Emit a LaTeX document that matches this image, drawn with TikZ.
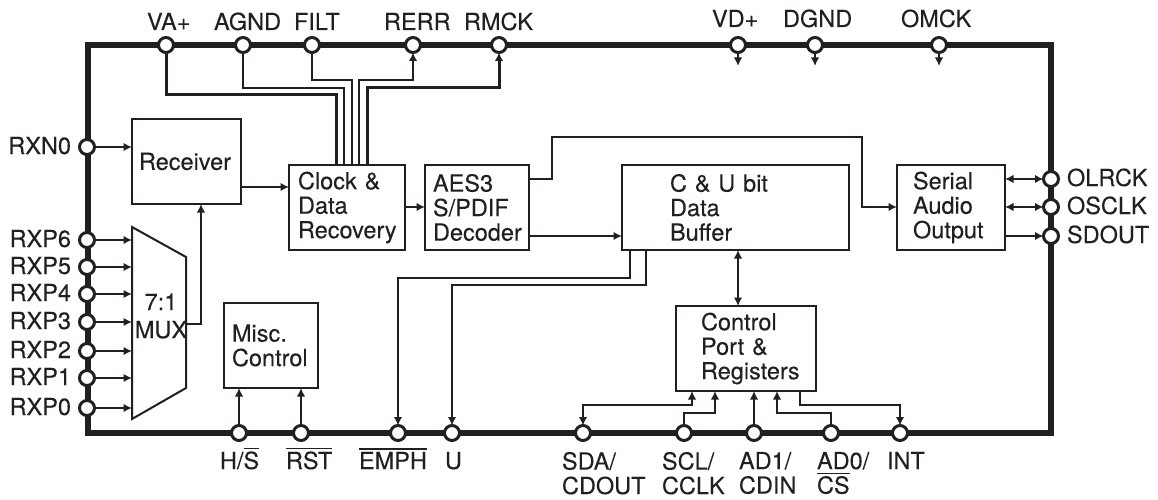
\documentclass[tikz,border=0pt]{standalone}
\usepackage{fontspec}
\setmainfont{TeX Gyre Heros}[FakeBold=0.12]
\usetikzlibrary{arrows.meta}
\definecolor{ink}{HTML}{231F20}
\newcommand\ovl[1]{\leavevmode\vbox{\hrule height 1.2pt \kern 2.2pt \hbox{#1}}}
\tikzset{
  x=1pt,y=-1pt,
  every node/.style={font=\fontsize{23.5}{24.5}\selectfont,text=ink},
  frameline/.style={draw=ink,line width=6pt,line join=miter},
  pin/.style={circle,draw=ink,line width=3pt,fill=white,minimum size=15pt,inner sep=0pt,outer sep=0pt},
  blk/.style={draw=ink,line width=2pt,fill=white,anchor=north west,align=left,inner ysep=0pt,outer sep=0pt,minimum height=85pt},
  txt/.style={inner sep=0pt,outer sep=0pt,anchor=base west},
  txtr/.style={inner sep=0pt,outer sep=0pt,anchor=base east},
  txtml/.style={inner sep=0pt,outer sep=0pt,anchor=north west,align=left},
  wire/.style={draw=ink,line width=2pt},
  heavy/.style={draw=ink,line width=3pt},
  arr/.style={wire,-{Latex[length=8.5pt,width=8.5pt]}},
  harr/.style={heavy,-{Latex[length=8.5pt,width=8.5pt]}},
  barr/.style={wire,{Latex[length=8.5pt,width=8.5pt]}-{Latex[length=8.5pt,width=8.5pt]}},
}
\begin{document}
\begin{tikzpicture}
\useasboundingbox (0,0) rectangle (1158,500);
\fill[white] (0,0) rectangle (1158,500);
% frame
\draw[frameline] (88,45) rectangle (1051,433);
% blocks
\node[blk,minimum width=109pt,inner xsep=7pt,text width=95pt] (recv) at (132,119) {Receiver};
\node[blk,minimum width=116pt,inner xsep=9pt,text width=98pt] (clock) at (289,165) {Clock \&\\Data\\Recovery};
\node[blk,minimum width=104pt,inner xsep=8pt,text width=88pt] (aes) at (425,165) {AES3\\S/PDIF\\Decoder};
\node[blk,minimum width=227pt,inner xsep=48pt,text width=131pt] (cu) at (622,165) {C \& U bit\\Data\\Buffer};
\node[blk,minimum width=108pt,inner xsep=16pt,text width=76pt] (serial) at (897,165) {Serial\\Audio\\Output};
\node[blk,minimum width=140pt,inner xsep=25pt,text width=90pt] (ctrl) at (676,306) {Control\\Port \&\\Registers};
\node[blk,minimum width=94pt,inner xsep=8pt,text width=78pt] (misc) at (224,303) {Misc.\\Control};
% mux
\coordinate (muxTL) at (132,227);
\coordinate (muxTR) at (186,257);
\coordinate (muxBR) at (186,388);
\coordinate (muxBL) at (132,419);
\draw[wire,line join=miter] (muxTL) -- (muxTR) -- (muxBR) -- (muxBL) -- cycle;
\node[inner sep=0pt,align=center] (mux) at (161,316) {7:1\\[3.5pt]MUX};
% pins
\foreach \n/\x in {va/166,agnd/243,filt/312,rerr/413,rmck/499,vd/738,dgnd/815,omck/939}
  \node[pin] (\n) at (\x,45) {};
\foreach \n/\y in {rxn/147,rxp6/240,rxp5/267,rxp4/294,rxp3/322,rxp2/351,rxp1/378,rxp0/408}
  \node[pin] (\n) at (87,\y) {};
\foreach \n/\y in {olrck/179,osclk/207,sdout/236}
  \node[pin] (\n) at (1051,\y) {};
\foreach \n/\x in {hs/239,rst/301,emph/398,u/452,sda/583,scl/684,adone/754,adzero/831,int/900}
  \node[pin] (\n) at (\x,433) {};
% routing points
\coordinate (cva) at (336,95);
\coordinate (cagnd) at (344,88);
\coordinate (cfilt) at (352,80);
\coordinate (crerr) at (359,80);
\coordinate (crmck) at (367,88);
\coordinate (vdtip) at (738,66);
\coordinate (dgtip) at (815,66);
\coordinate (omtip) at (939,66);
% top connectors
\draw[heavy] (va) |- (cva) -- (cva |- clock.north);
\draw[wire] (agnd) |- (cagnd) -- (cagnd |- clock.north);
\draw[wire] (filt) |- (cfilt) -- (cfilt |- clock.north);
\draw[arr] (crerr |- clock.north) -- (crerr) -| (rerr);
\draw[harr] (crmck |- clock.north) -- (crmck) -| (rmck);
\draw[arr] (vd) -- (vdtip);
\draw[arr] (dgnd) -- (dgtip);
\draw[arr] (omck) -- (omtip);
% left connectors
\draw[arr] (rxn) -- (rxn -| recv.west);
\foreach \n in {rxp6,rxp5,rxp4,rxp3,rxp2,rxp1,rxp0}
  \draw[arr] (\n) -- (\n -| muxTL);
\coordinate (muxout) at (186,324);
\coordinate (muxup) at (201,324);
\draw[arr] (muxout) -- (muxup) -- (muxup |- recv.south);
% internal connectors
\coordinate (rc) at (241,187);
\draw[arr] (rc) -- (rc -| clock.west);
\coordinate (ca) at (405,207);
\draw[arr] (ca) -- (ca -| aes.west);
\coordinate (ac) at (529,236);
\draw[arr] (ac) -- (ac -| cu.west);
\coordinate (as) at (529,179);
\coordinate (as1) at (552,137);
\coordinate (as2) at (862,207);
\draw[arr] (as) -| (as1) -| (as2) -- (as2 -| serial.west);
\coordinate (em) at (630,278);
\draw[arr] (em |- cu.south) -- (em) -| (emph);
\coordinate (uu) at (646,285);
\draw[arr] (uu |- cu.south) -- (uu) -| (u);
\coordinate (cc) at (738,250);
\draw[barr] (cc |- cu.south) -- (cc |- ctrl.north);
% right connectors
\draw[barr] (olrck -| serial.east) -- (olrck);
\draw[barr] (osclk -| serial.east) -- (osclk);
\draw[arr] (sdout -| serial.east) -- (sdout);
% bottom connectors
\draw[arr] (hs) -- (hs |- misc.south);
\draw[arr] (rst) -- (rst |- misc.south);
\coordinate (sdaup) at (692,405);
\draw[barr] (sda) |- (sdaup) -- (sdaup |- ctrl.south);
\coordinate (sclup) at (715,413);
\draw[arr] (scl) |- (sclup) -- (sclup |- ctrl.south);
\draw[arr] (adone) -- (adone |- ctrl.south);
\coordinate (adzup) at (777,413);
\draw[arr] (adzero) |- (adzup) -- (adzup |- ctrl.south);
\coordinate (intup) at (800,405);
\draw[arr] (intup |- ctrl.south) -- (intup) -| (int);
% top labels
\node[txt] (lva) at (147,30) {VA+};
\node[txt] (lagnd) at (214,30) {AGND};
\node[txt] (lfilt) at (294,30) {FILT};
\node[txt] (lrerr) at (384,30) {RERR};
\node[txt] (lrmck) at (464,30) {RMCK};
\node[txt] (lvd) at (712,27) {VD+};
\node[txt] (ldgnd) at (783,27) {DGND};
\node[txt] (lomck) at (901,27) {OMCK};
% left labels
\node[txtr] (lrxn) at (71,154) {RXN0};
\node[txtr] (lrxp6) at (71,247) {RXP6};
\node[txtr] (lrxp5) at (71,274) {RXP5};
\node[txtr] (lrxp4) at (71,301) {RXP4};
\node[txtr] (lrxp3) at (71,329) {RXP3};
\node[txtr] (lrxp2) at (71,358) {RXP2};
\node[txtr] (lrxp1) at (71,385) {RXP1};
\node[txtr] (lrxp0) at (71,415) {RXP0};
% right labels
\node[txt] (lolrck) at (1067,186) {OLRCK};
\node[txt] (losclk) at (1067,214) {OSCLK};
\node[txt] (lsdout) at (1067,243) {SDOUT};
% bottom labels
\node[txt] (lhs) at (220,469) {H/\ovl{S}};
\node[txt] (lrst) at (286,469) {\ovl{RST}};
\node[txt] (lemph) at (359,469) {\ovl{EMPH}};
\node[txt] (lu) at (445,469) {U};
\node[txtml] (lsda) at (562,452) {SDA/\\CDOUT};
\node[txtml] (lscl) at (662,452) {SCL/\\CCLK};
\node[txtml] (lad1) at (739,452) {AD1/\\CDIN};
\node[txtml] (lad0) at (817,452) {AD0/\\\ovl{CS}};
\node[txt] (lint) at (887,469) {INT};
\end{tikzpicture}
\end{document}
